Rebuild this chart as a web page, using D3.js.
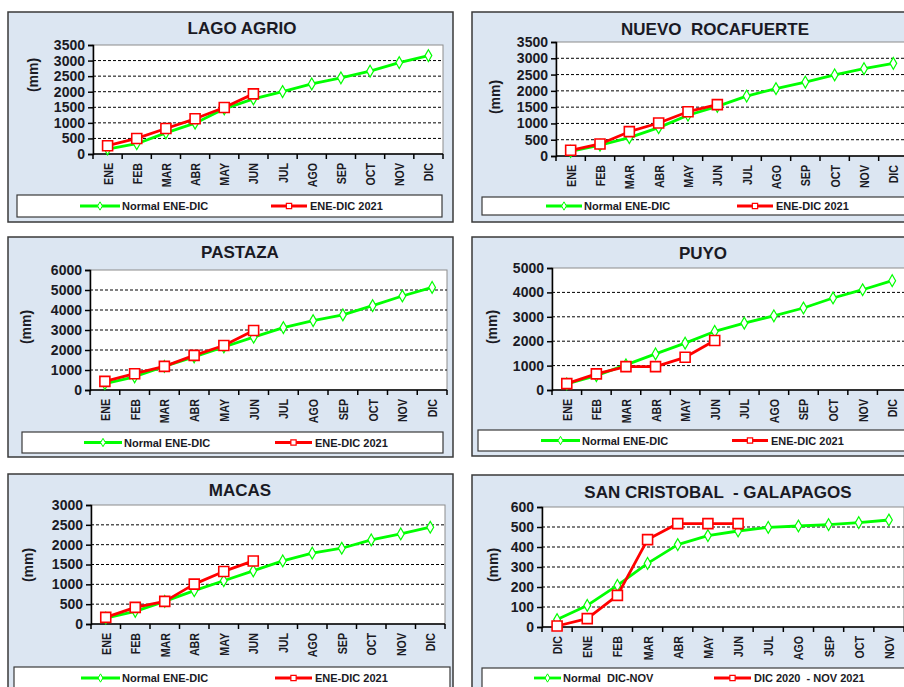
<!DOCTYPE html>
<html>
<head>
<meta charset="utf-8">
<script src="https://cdn.jsdelivr.net/npm/d3@7"></script>
<style>
  html, body { margin: 0; padding: 0; background: #ffffff; }
  svg { display: block; font-family: Arial, "Liberation Sans", sans-serif; }
  text { white-space: pre; }
</style>
</head>
<body>
<svg id="chart" width="904" height="687"></svg>
<script>
// ---------------- DATA ----------------
const monthsEneDic = ["ENE","FEB","MAR","ABR","MAY","JUN","JUL","AGO","SEP","OCT","NOV","DIC"];
const monthsDicNov = ["DIC","ENE","FEB","MAR","ABR","MAY","JUN","JUL","AGO","SEP","OCT","NOV"];

const lagoNormal = [160, 330, 680, 990, 1450, 1770, 2005, 2250, 2445, 2660, 2935, 3160];
const lagoObs    = [267, 500, 820, 1130, 1495, 1930];
const lagoTicks  = [0, 500, 1000, 1500, 2000, 2500, 3000, 3500];

const nuevoNormal = [140, 330, 563, 870, 1250, 1525, 1840, 2070, 2270, 2490, 2680, 2845];
const nuevoObs    = [175, 370, 747, 1013, 1360, 1576];
const nuevoTicks  = [0, 500, 1000, 1500, 2000, 2500, 3000, 3500];

const pastazaNormal = [316, 660, 1180, 1660, 2150, 2640, 3120, 3470, 3755, 4220, 4700, 5130];
const pastazaObs    = [430, 815, 1180, 1730, 2226, 2975];
const pastazaTicks  = [0, 1000, 2000, 3000, 4000, 5000, 6000];

const puyoNormal = [250, 590, 1030, 1480, 1920, 2400, 2740, 3040, 3360, 3770, 4110, 4480];
const puyoObs    = [260, 660, 960, 960, 1340, 2030];
const puyoTicks  = [0, 1000, 2000, 3000, 4000, 5000];

const macasNormal = [150, 320, 570, 840, 1090, 1340, 1590, 1785, 1910, 2120, 2270, 2440];
const macasObs    = [168, 420, 570, 1005, 1325, 1590];
const macasTicks  = [0, 500, 1000, 1500, 2000, 2500, 3000];

const galNormal = [37, 108, 208, 318, 412, 457, 480, 498, 505, 512, 522, 535];
const galObs    = [5, 42, 158, 437, 517, 517, 517];
const galTicks  = [0, 100, 200, 300, 400, 500, 600];

const titles = ["LAGO AGRIO", "NUEVO  ROCAFUERTE", "PASTAZA", "PUYO", "MACAS", "SAN CRISTOBAL  - GALAPAGOS"];
const legendNormalEneDic = "Normal ENE-DIC";
const legendObsEneDic    = "ENE-DIC 2021";
const legendNormalDicNov = "Normal  DIC-NOV";
const legendObsDicNov    = "DIC 2020  - NOV 2021";

// ---------------- LAYOUT ----------------
const panels = [
  { title: titles[0], cats: monthsEneDic, normal: lagoNormal, obs: lagoObs, ticks: lagoTicks,
    box: [8, 12, 453, 222], plot: [93, 45, 443, 154], titleX: 242, titleY: 28, ylabX: 33, ylabY: 75,
    leg: [17, 195, 442, 217], legG: [80, 120], legR: [271, 307], ln: legendNormalEneDic, lo: legendObsEneDic },
  { title: titles[1], cats: monthsEneDic, normal: nuevoNormal, obs: nuevoObs, ticks: nuevoTicks,
    box: [472, 12, 916, 222], plot: [556, 42, 908, 156], titleX: 715, titleY: 29, ylabX: 495, ylabY: 97,
    leg: [482, 197, 912, 215], legG: [546, 582], legR: [737, 773], ln: legendNormalEneDic, lo: legendObsEneDic },
  { title: titles[2], cats: monthsEneDic, normal: pastazaNormal, obs: pastazaObs, ticks: pastazaTicks,
    box: [8, 237, 453, 457], plot: [90, 270, 447, 390], titleX: 240, titleY: 252, ylabX: 26, ylabY: 327,
    leg: [22, 432, 443, 453], legG: [84, 122], legR: [275, 312], ln: legendNormalEneDic, lo: legendObsEneDic },
  { title: titles[3], cats: monthsEneDic, normal: puyoNormal, obs: puyoObs, ticks: puyoTicks,
    box: [472, 237, 916, 456], plot: [552, 268, 907, 390], titleX: 703, titleY: 253, ylabX: 492, ylabY: 327,
    leg: [478, 430, 912, 451], legG: [541, 580], legR: [732, 768], ln: legendNormalEneDic, lo: legendObsEneDic },
  { title: titles[4], cats: monthsEneDic, normal: macasNormal, obs: macasObs, ticks: macasTicks,
    box: [8, 474, 453, 720], plot: [91, 505, 445, 624], titleX: 240, titleY: 490, ylabX: 28, ylabY: 565,
    leg: [14, 667, 450, 720], legG: [81, 120], legR: [275, 312], ln: legendNormalEneDic, lo: legendObsEneDic, legTextY: 678 },
  { title: titles[5], cats: monthsDicNov, normal: galNormal, obs: galObs, ticks: galTicks,
    box: [472, 475, 916, 720], plot: [542, 507, 904, 627], titleX: 718, titleY: 492, ylabX: 493, ylabY: 565,
    leg: [482, 668, 912, 720], legG: [534, 561], legR: [714, 751], ln: legendNormalDicNov, lo: legendObsDicNov, legTextY: 678 }
];

const GREEN = "#00ff00", RED = "#ff0000", BG = "#dce6f2", TXT = "#1a1a24";
const svg = d3.select("#chart");

panels.forEach(p => {
  const g = svg.append("g");
  const [bx0, by0, bx1, by1] = p.box;
  g.append("rect").attr("x", bx0).attr("y", by0).attr("width", bx1 - bx0).attr("height", by1 - by0)
    .attr("fill", BG).attr("stroke", "#3a3a3a").attr("stroke-width", 1.5);

  const [px0, py0, px1, py1] = p.plot;
  const x = d3.scaleBand().domain(p.cats).range([px0, px1]).padding(0);
  const y = d3.scaleLinear().domain([0, d3.max(p.ticks)]).range([py1, py0]);

  g.append("rect").attr("x", px0).attr("y", py0).attr("width", px1 - px0).attr("height", py1 - py0)
    .attr("fill", "#ffffff").attr("stroke", "#8c8c8c").attr("stroke-width", 1);

  g.selectAll(".grid").data(p.ticks.filter(t => t > 0 && t < d3.max(p.ticks))).enter().append("line")
    .attr("x1", px0).attr("x2", px1).attr("y1", d => y(d)).attr("y2", d => y(d))
    .attr("stroke", "#000").attr("stroke-width", 1).attr("stroke-dasharray", "3,2");

  const ya = g.append("g").attr("transform", `translate(${px0},0)`)
    .call(d3.axisLeft(y).tickValues(p.ticks).tickSize(5).tickPadding(3).tickFormat(d3.format("d")));
  ya.select(".domain").attr("stroke", "#000").attr("stroke-width", 1.5);
  ya.selectAll(".tick line").attr("stroke", "#000").attr("stroke-width", 1.5);
  ya.selectAll(".tick text").attr("font-size", 14).attr("font-weight", "bold").attr("fill", TXT)
    .attr("font-family", "Arial, 'Liberation Sans', sans-serif");

  g.append("line").attr("x1", px0).attr("x2", px1).attr("y1", py1).attr("y2", py1)
    .attr("stroke", "#000").attr("stroke-width", 1.5);
  const bounds = p.cats.map(c => x(c)).concat([px1]);
  g.selectAll(".xt").data(bounds).enter().append("line")
    .attr("x1", d => d).attr("x2", d => d).attr("y1", py1).attr("y2", py1 + 5)
    .attr("stroke", "#000").attr("stroke-width", 1.5);
  g.selectAll(".xl").data(p.cats).enter().append("text")
    .attr("transform", d => `translate(${x(d) + x.bandwidth() / 2 + 5},${py1 + 9}) rotate(-90) scale(0.82,1)`)
    .attr("text-anchor", "end").attr("font-size", 13).attr("font-weight", "bold").attr("fill", TXT)
    .text(d => d);

  g.append("text").attr("transform", `translate(${p.ylabX + 5},${p.ylabY}) rotate(-90)`)
    .attr("text-anchor", "middle").attr("font-size", 14).attr("font-weight", "bold").attr("fill", TXT)
    .text("(mm)");

  g.append("text").attr("x", p.titleX).attr("y", p.titleY + 6).attr("text-anchor", "middle")
    .attr("font-size", 17).attr("font-weight", "bold").attr("fill", TXT).text(p.title);

  const cx = (d, i) => x(p.cats[i]) + x.bandwidth() / 2;
  const line = d3.line().x(cx).y(d => y(d));
  g.append("path").datum(p.normal).attr("d", line).attr("fill", "none")
    .attr("stroke", GREEN).attr("stroke-width", 2.8).attr("stroke-linejoin", "round");
  const diamond = d3.symbol().type(d3.symbolDiamond).size(40);
  g.selectAll(".gm").data(p.normal).enter().append("path").attr("d", diamond)
    .attr("transform", (d, i) => `translate(${cx(d, i)},${y(d)})`)
    .attr("fill", "#ffffff").attr("stroke", GREEN).attr("stroke-width", 1.2);

  g.append("path").datum(p.obs).attr("d", line).attr("fill", "none")
    .attr("stroke", RED).attr("stroke-width", 2.8).attr("stroke-linejoin", "round");
  const square = d3.symbol().type(d3.symbolSquare).size(100);
  g.selectAll(".rm").data(p.obs).enter().append("path").attr("d", square)
    .attr("transform", (d, i) => `translate(${cx(d, i)},${y(d)})`)
    .attr("fill", "#ffffff").attr("stroke", RED).attr("stroke-width", 1.6);

  const [lx0, ly0, lx1, ly1] = p.leg;
  g.append("rect").attr("x", lx0).attr("y", ly0).attr("width", lx1 - lx0).attr("height", ly1 - ly0)
    .attr("fill", "#ffffff").attr("stroke", "#3a3a3a").attr("stroke-width", 1.2);
  const ly = p.legTextY || (ly0 + ly1) / 2;
  g.append("line").attr("x1", p.legG[0]).attr("x2", p.legG[1]).attr("y1", ly).attr("y2", ly)
    .attr("stroke", GREEN).attr("stroke-width", 2.8);
  g.append("path").attr("d", d3.symbol().type(d3.symbolDiamond).size(20))
    .attr("transform", `translate(${(p.legG[0] + p.legG[1]) / 2},${ly})`)
    .attr("fill", "#fff").attr("stroke", GREEN).attr("stroke-width", 1);
  g.append("text").attr("x", p.legG[1] + 2).attr("y", ly + 4).attr("font-size", 11).attr("font-weight", "bold")
    .attr("fill", TXT).text(p.ln);
  g.append("line").attr("x1", p.legR[0]).attr("x2", p.legR[1]).attr("y1", ly).attr("y2", ly)
    .attr("stroke", RED).attr("stroke-width", 2.8);
  g.append("path").attr("d", d3.symbol().type(d3.symbolSquare).size(28))
    .attr("transform", `translate(${(p.legR[0] + p.legR[1]) / 2},${ly})`)
    .attr("fill", "#fff").attr("stroke", RED).attr("stroke-width", 1.2);
  g.append("text").attr("x", p.legR[1] + 3).attr("y", ly + 4).attr("font-size", 11).attr("font-weight", "bold")
    .attr("fill", TXT).text(p.lo);
});
</script>
</body>
</html>
